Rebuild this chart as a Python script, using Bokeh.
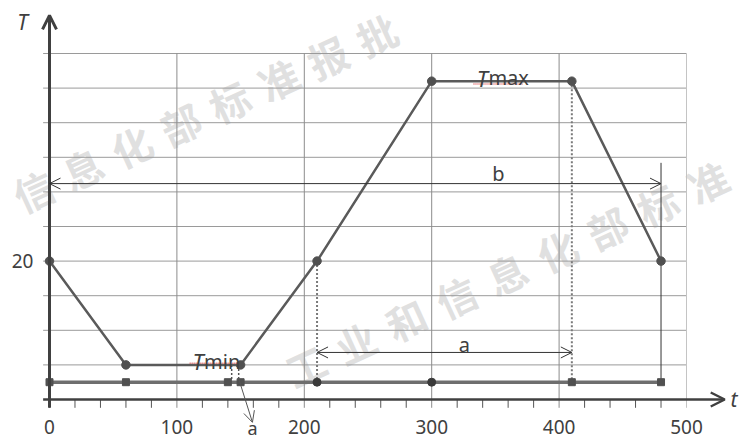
import math
from bokeh.plotting import figure
from bokeh.models import Range1d, Arrow, OpenHead
from bokeh.core.properties import value
from bokeh.embed import file_html
from bokeh.resources import INLINE

# ---------------- data ----------------
profile_t = [0, 60, 150, 210, 300, 410, 480]
profile_T = [20, 5, 5, 20, 46, 46, 20]
base_square_t = [0, 60, 140, 150, 410, 480]
base_dot_t = [210, 300]
BASE_T = 2.5
x_ticks = [0, 100, 200, 300, 400, 500]
x_tick_labels = ["0", "100", "200", "300", "400", "500"]
minor_ticks = [0, 20, 40, 60, 80, 120, 140, 160, 180, 220, 240, 260, 280,
               320, 340, 360, 380, 420, 440, 460, 480]
grid_T = [5, 10, 15, 20, 25, 30, 35, 40, 45, 50]
grid_t = [100, 200, 300, 400]
y_tick_T = [20]
y_tick_labels = ["20"]
T_MAX = 46
T_MIN = 5
B_LEVEL = 31.2
A_LEVEL = 6.8
watermark_1 = "信息化部标准报批"
watermark_2 = "工业和信息化部标准"

AX = "#404040"
TXT = "#404040"
FONT = value("Noto Sans")

# scale of the drawing: 1.274 px per t unit, 6.92 px per T unit
PX_T = 1.274
PX_Y = 6.92
X0, Y0 = 49, 399


def dt(px):
    return px / PX_T


def dT(py):
    return py / PX_Y


p = figure(width=740, height=440,
           x_range=Range1d(-X0 / PX_T, (740 - X0) / PX_T),
           y_range=Range1d((Y0 - 440) / PX_Y, Y0 / PX_Y), output_backend="svg",
           toolbar_location=None, min_border=0, outline_line_color=None,
           x_axis_type=None, y_axis_type=None)
p.grid.visible = False

# watermark (character by character along a diagonal)
ang = math.atan2(23, 50)
for (sx, sy), (stx, sty), s in [((33 - X0, Y0 - 190), (49.0, 22.3), watermark_1),
                                ((305 - X0, Y0 - 365), (50.3, 23.0), watermark_2)]:
    xs = [dt(sx + stx * i) for i in range(len(s))]
    ys = [dT(sy + sty * i) for i in range(len(s))]
    p.text(x=xs, y=ys, text=list(s), angle=ang, text_align="center",
           text_baseline="middle", text_font=value("Noto Sans CJK SC"),
           text_font_size="40px", text_font_style="bold",
           text_color="#cccccc", text_alpha=0.6)

# grid
p.segment(x0=[-5] * len(grid_T), y0=grid_T, x1=[500] * len(grid_T), y1=grid_T,
          line_color="#9a9a9a", line_width=1)
p.segment(x0=grid_t, y0=[-1.2] * len(grid_t), x1=grid_t, y1=[50] * len(grid_t),
          line_color="#8c8c8c", line_width=1)
p.segment(x0=[500], y0=[-1.2], x1=[500], y1=[50], line_color="#c4c4c4", line_width=1)
# minor ticks
p.segment(x0=minor_ticks, y0=[0] * len(minor_ticks), x1=minor_ticks,
          y1=[-1.2] * len(minor_ticks), line_color="#555555", line_width=1)

# dotted guides
p.segment(x0=[210, 410], y0=[20, T_MAX], x1=[210, 410], y1=[BASE_T, BASE_T],
          line_color="#7a7a7a", line_width=2, line_dash="2 2")
p.segment(x0=[143, 148.5], y0=[T_MIN, T_MIN], x1=[143, 148.5], y1=[BASE_T, BASE_T],
          line_color="#555555", line_width=1.5, line_dash="2 2")
# solid vertical at end
p.segment(x0=[480], y0=[BASE_T], x1=[480], y1=[34.2], line_color="#333333", line_width=1)

# base line
p.line(x=[0, 480], y=[BASE_T, BASE_T], line_color="#6e6e6e", line_width=3.5)
p.scatter(x=base_square_t, y=[BASE_T] * len(base_square_t), marker="square",
          size=7, fill_color="#505050", line_color="#505050")
p.scatter(x=base_dot_t, y=[BASE_T] * len(base_dot_t), marker="circle",
          size=8, fill_color="#3a3a3a", line_color="#3a3a3a")

# profile
p.line(x=profile_t, y=profile_T, line_color="#5a5a5a", line_width=2.5)
p.scatter(x=profile_t, y=profile_T, marker="circle", size=8.5,
          fill_color="#505050", line_color="#505050")

# axes
p.add_layout(Arrow(end=OpenHead(size=14, line_color=AX, line_width=3),
                   x_start=0, y_start=-1.2, x_end=0, y_end=55.5,
                   line_color=AX, line_width=3))
p.add_layout(Arrow(end=OpenHead(size=14, line_color=AX, line_width=2.5),
                   x_start=-5, y_start=0, x_end=530, y_end=0,
                   line_color=AX, line_width=2.5))

# dimension arrows
for xs_, xe_, yy in [(0, 480, B_LEVEL), (210, 410, A_LEVEL)]:
    p.add_layout(Arrow(start=OpenHead(size=11, line_color="#333333", line_width=1),
                       end=OpenHead(size=11, line_color="#333333", line_width=1),
                       x_start=xs_, y_start=yy, x_end=xe_, y_end=yy,
                       line_color="#333333", line_width=1))
p.add_layout(Arrow(end=OpenHead(size=11, line_color="#555555", line_width=1),
                   x_start=148.5, y_start=3.0, x_end=159.3, y_end=-3.3,
                   line_color="#555555", line_width=1))

# red spell-check underlines
p.segment(x0=[332.8, 110], y0=[45.6, 5.25], x1=[371.3, 147.6], y1=[45.6, 5.25],
          line_color="#e06060", line_width=1.5, line_dash="1 1")

# tick labels
p.text(x=x_ticks, y=[-4.0] * len(x_ticks), text=x_tick_labels,
       text_align="center", text_baseline="middle", text_font=FONT,
       text_font_size="19px", text_color=TXT)
p.text(x=[-12.6], y=y_tick_T, text=y_tick_labels, text_align="right",
       text_baseline="middle", text_font=FONT, text_font_size="19px", text_color=TXT)

# axis names
p.text(x=[-21.2], y=[54.5], text=["T"], text_align="center", text_baseline="middle",
       text_font=FONT, text_font_size="21px", text_font_style="italic", text_color=TXT)
p.text(x=[534.5], y=[0.1], text=["t"], text_align="left", text_baseline="middle",
       text_font=FONT, text_font_size="21px", text_font_style="italic", text_color=TXT)

# Tmax / Tmin
p.text(x=[344, 120.9], y=[46.5, 5.5], text=["T", "T"], text_align="right",
       text_baseline="alphabetic", text_font=FONT, text_font_size="22px",
       text_font_style="italic", text_color=TXT)
p.text(x=[344.5, 121.3], y=[46.5, 5.5], text=["max", "min"], text_align="left",
       text_baseline="alphabetic", text_font=FONT, text_font_size="20px",
       text_color=TXT)

# dimension labels
p.text(x=[352.4, 325.7], y=[32.6, 7.9], text=["b", "a"], text_align="center",
       text_baseline="middle", text_font=FONT, text_font_size="20px", text_color=TXT)
p.text(x=[159.3], y=[-5.85], text=["a"], text_align="center",
       text_baseline="bottom", text_font=FONT, text_font_size="18px", text_color=TXT)

open("out.html", "w").write(file_html(p, INLINE))
